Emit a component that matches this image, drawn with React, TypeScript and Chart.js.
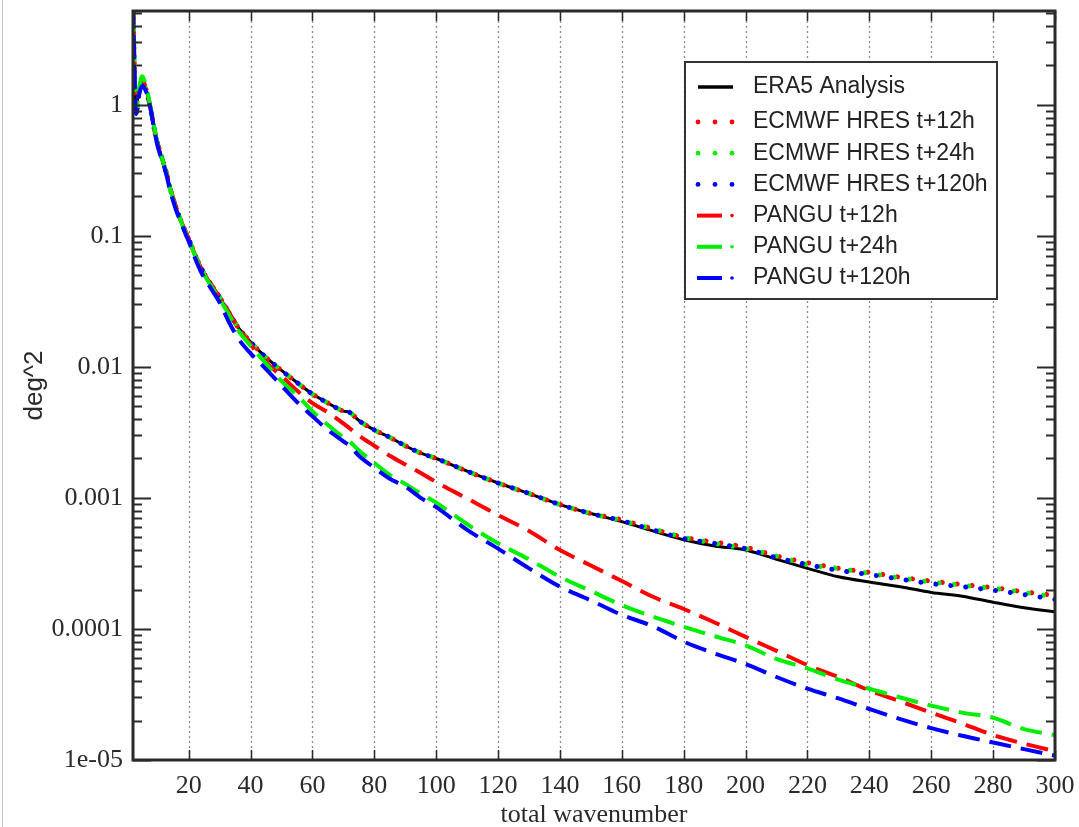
import React, { useEffect, useRef } from 'react';
import { Chart, registerables } from 'chart.js';

Chart.register(...registerables);

// total wavenumber samples
const WAVENUMBER = [2, 3, 4, 5, 6, 7, 8, 9, 10, 11, 12, 13, 14, 15, 16, 17, 18, 19, 20, 22, 24, 26, 28, 30, 33, 36, 40, 45, 50, 55, 60, 65, 70, 72, 75, 80, 85, 90, 95, 100, 110, 120, 130, 140, 150, 160, 170, 180, 190, 200, 210, 220, 230, 240, 250, 260, 270, 280, 290, 300];

const ERA5 = [6, 1.0, 1.3, 1.45, 1.35, 1.1, 0.85, 0.63, 0.5, 0.42, 0.35, 0.29, 0.23, 0.19, 0.16, 0.14, 0.122, 0.107, 0.095, 0.072, 0.057, 0.047, 0.04, 0.034, 0.026, 0.02, 0.0155, 0.0118, 0.0094, 0.0076, 0.0062, 0.0053, 0.0046, 0.0045, 0.0039, 0.0033, 0.0029, 0.0025, 0.0022, 0.002, 0.0016, 0.0013, 0.00108, 0.00089, 0.00076, 0.00066, 0.00056, 0.00048, 0.00043, 0.0004, 0.00034, 0.00029, 0.00025, 0.000228, 0.00021, 0.00019, 0.000178, 0.00016, 0.000145, 0.000135];

const HRES_12 = [6, 0.85, 1.25, 1.45, 1.35, 1.1, 0.85, 0.63, 0.5, 0.42, 0.35, 0.29, 0.23, 0.19, 0.16, 0.14, 0.122, 0.107, 0.095, 0.072, 0.057, 0.047, 0.04, 0.034, 0.026, 0.02, 0.0155, 0.0118, 0.0094, 0.0076, 0.0062, 0.0053, 0.0046, 0.0045, 0.0039, 0.0033, 0.0029, 0.0025, 0.0022, 0.002, 0.0016, 0.0013, 0.00108, 0.00089, 0.00076, 0.00068, 0.00058, 0.0005, 0.00046, 0.00042, 0.00036, 0.00032, 0.00029, 0.00027, 0.000248, 0.000232, 0.000218, 0.000207, 0.000192, 0.00018];

const HRES_24 = [6, 0.85, 1.25, 1.45, 1.35, 1.1, 0.85, 0.63, 0.5, 0.42, 0.35, 0.29, 0.23, 0.19, 0.16, 0.14, 0.122, 0.107, 0.095, 0.072, 0.057, 0.047, 0.04, 0.034, 0.026, 0.02, 0.0155, 0.0118, 0.0094, 0.0076, 0.0062, 0.0053, 0.0046, 0.0045, 0.0039, 0.0033, 0.0029, 0.0025, 0.0022, 0.002, 0.0016, 0.0013, 0.00108, 0.00089, 0.00076, 0.00067, 0.00058, 0.0005, 0.00045, 0.00041, 0.00036, 0.00031, 0.00029, 0.000265, 0.000245, 0.000228, 0.000215, 0.000204, 0.00019, 0.000176];

const HRES_120 = [6, 0.85, 1.25, 1.45, 1.35, 1.1, 0.85, 0.63, 0.5, 0.42, 0.35, 0.29, 0.23, 0.19, 0.16, 0.14, 0.122, 0.107, 0.095, 0.072, 0.057, 0.047, 0.04, 0.034, 0.026, 0.02, 0.0155, 0.0118, 0.0094, 0.0076, 0.0062, 0.0053, 0.0046, 0.0045, 0.0039, 0.0033, 0.0029, 0.0025, 0.0022, 0.002, 0.0016, 0.0013, 0.00108, 0.00089, 0.00076, 0.00067, 0.00057, 0.00049, 0.00045, 0.00041, 0.00035, 0.00031, 0.00028, 0.00026, 0.00024, 0.000222, 0.00021, 0.000198, 0.000183, 0.000168];

const PANGU_12 = [6, 0.85, 1.25, 1.5, 1.4, 1.12, 0.86, 0.64, 0.5, 0.42, 0.35, 0.29, 0.235, 0.195, 0.165, 0.14, 0.122, 0.107, 0.096, 0.072, 0.057, 0.047, 0.04, 0.034, 0.026, 0.02, 0.0148, 0.0108, 0.0085, 0.0066, 0.0053, 0.0045, 0.0037, 0.0034, 0.003, 0.0025, 0.0021, 0.0018, 0.00155, 0.00132, 0.00099, 0.00074, 0.00056, 0.0004, 0.000305, 0.000232, 0.000176, 0.000142, 0.000112, 0.000087, 0.000068, 0.000053, 0.000043, 0.000034, 0.000028, 0.000023, 0.000019, 0.0000155, 0.0000133, 0.0000117];

const PANGU_24 = [6, 0.9, 1.35, 1.65, 1.45, 1.15, 0.88, 0.65, 0.5, 0.42, 0.35, 0.29, 0.23, 0.19, 0.16, 0.14, 0.12, 0.105, 0.094, 0.071, 0.056, 0.046, 0.039, 0.033, 0.025, 0.019, 0.0145, 0.0106, 0.0078, 0.0061, 0.0046, 0.0036, 0.0029, 0.0027, 0.0023, 0.00185, 0.0015, 0.00128, 0.00108, 0.00092, 0.00063, 0.00045, 0.00034, 0.00025, 0.000195, 0.000152, 0.000124, 0.000104, 0.000088, 0.000075, 0.000059, 0.00005, 0.000041, 0.000035, 0.00003, 0.000026, 0.000023, 0.000021, 0.0000172, 0.0000155];

const PANGU_120 = [6, 0.85, 1.2, 1.4, 1.3, 1.1, 0.85, 0.62, 0.48, 0.4, 0.34, 0.28, 0.22, 0.185, 0.155, 0.135, 0.118, 0.103, 0.091, 0.068, 0.053, 0.044, 0.037, 0.031, 0.022, 0.0165, 0.0127, 0.0096, 0.0072, 0.0054, 0.0042, 0.0033, 0.0027, 0.0025, 0.0021, 0.0017, 0.0014, 0.00122, 0.001, 0.00085, 0.00057, 0.00041, 0.00029, 0.00021, 0.000165, 0.000128, 0.000105, 0.00008, 0.000065, 0.000054, 0.000043, 0.000035, 0.0000295, 0.0000245, 0.0000205, 0.0000175, 0.0000153, 0.0000136, 0.0000121, 0.0000108];

const SERIES_LABELS = ['ERA5 Analysis', 'ECMWF HRES t+12h', 'ECMWF HRES t+24h', 'ECMWF HRES t+120h', 'PANGU t+12h', 'PANGU t+24h', 'PANGU t+120h'];
const SERIES_COLORS = ['#000000', '#ff0000', '#00ee00', '#0000ff', '#ff0000', '#00ee00', '#0000ff'];
const SERIES_STYLES = ['solid', 'dot', 'dot', 'dot', 'dashdot', 'dashdot', 'dashdot'];

const X_TICKS = [20, 40, 60, 80, 100, 120, 140, 160, 180, 200, 220, 240, 260, 280, 300];
const Y_TICKS = [1e-5, 1e-4, 1e-3, 1e-2, 1e-1, 1];
const Y_TICK_LABELS = ['1e-05', '0.0001', '0.001', '0.01', '0.1', '1'];

const X_MIN = 2;
const X_MAX = 300;
const Y_MIN = 1e-5;
const Y_MAX = 5.2;

const AXIS_COLOR = '#2a2a2a';

const decoPlugin = {
  id: 'deco',
  beforeDraw(chart: any) {
    const { ctx, height } = chart;
    ctx.save();
    ctx.strokeStyle = '#c4c4c4';
    ctx.lineWidth = 1;
    ctx.beginPath();
    ctx.moveTo(2.5, 0);
    ctx.lineTo(2.5, height);
    ctx.stroke();
    ctx.restore();
  },
  beforeDatasetsDraw(chart: any) {
    const { ctx, chartArea: a, scales } = chart;
    const xs = scales.x;
    ctx.save();
    ctx.strokeStyle = '#8c8c8c';
    ctx.lineWidth = 1.3;
    ctx.setLineDash([2, 3]);
    X_TICKS.forEach((v) => {
      const px = Math.round(xs.getPixelForValue(v)) + 0.5;
      ctx.beginPath();
      ctx.moveTo(px, a.top);
      ctx.lineTo(px, a.bottom);
      ctx.stroke();
    });
    ctx.restore();
  },
  afterDatasetsDraw(chart: any) {
    const { ctx, chartArea: a, scales } = chart;
    const xs = scales.x;
    const ys = scales.y;
    ctx.save();
    // inner ticks on y axes
    ctx.strokeStyle = AXIS_COLOR;
    ctx.lineWidth = 2;
    ctx.setLineDash([]);
    for (let e = -5; e <= 0; e++) {
      for (let m = 1; m <= 9; m++) {
        const v = m * Math.pow(10, e);
        if (v > Y_MAX) break;
        const py = Math.round(ys.getPixelForValue(v)) + 0.5;
        const len = m === 1 ? 18 : 9;
        ctx.beginPath();
        ctx.moveTo(a.left, py);
        ctx.lineTo(a.left + len, py);
        ctx.moveTo(a.right, py);
        ctx.lineTo(a.right - len, py);
        ctx.stroke();
      }
    }
    // inner ticks on x axes
    ctx.lineWidth = 1.5;
    X_TICKS.forEach((v) => {
      const px = Math.round(xs.getPixelForValue(v)) + 0.5;
      ctx.beginPath();
      ctx.moveTo(px, a.top);
      ctx.lineTo(px, a.top + 10);
      ctx.moveTo(px, a.bottom);
      ctx.lineTo(px, a.bottom - 10);
      ctx.stroke();
    });
    // frame
    ctx.lineWidth = 3;
    ctx.strokeStyle = AXIS_COLOR;
    ctx.strokeRect(a.left, a.top, a.right - a.left, a.bottom - a.top);

    // legend box
    const bx = 685, by = 62, bw = 312, bh = 237;
    ctx.fillStyle = '#ffffff';
    ctx.fillRect(bx, by, bw, bh);
    ctx.lineWidth = 2;
    ctx.strokeStyle = '#333333';
    ctx.strokeRect(bx, by, bw, bh);
    ctx.font = '23px "Liberation Sans", Arial, sans-serif';
    ctx.textBaseline = 'middle';
    ctx.textAlign = 'left';
    SERIES_LABELS.forEach((label, i) => {
      const rowY = i === 0 ? 87 : 122 + (i - 1) * 31.2;
      const color = SERIES_COLORS[i];
      const style = SERIES_STYLES[i];
      ctx.strokeStyle = color;
      ctx.fillStyle = color;
      if (style === 'solid') {
        ctx.lineWidth = 3.5;
        ctx.beginPath();
        ctx.moveTo(698, rowY);
        ctx.lineTo(733, rowY);
        ctx.stroke();
      } else if (style === 'dot') {
        [698, 715, 732].forEach((dx) => {
          ctx.beginPath();
          ctx.arc(dx, rowY, 2.4, 0, Math.PI * 2);
          ctx.fill();
        });
      } else {
        ctx.lineWidth = 4;
        ctx.beginPath();
        ctx.moveTo(697, rowY);
        ctx.lineTo(722, rowY);
        ctx.stroke();
        ctx.beginPath();
        ctx.arc(732, rowY, 1.8, 0, Math.PI * 2);
        ctx.fill();
      }
      ctx.fillStyle = '#222222';
      ctx.fillText(label, 753, rowY);
    });
    ctx.restore();
  },
};

export default function App() {
  const canvasRef = useRef<HTMLCanvasElement | null>(null);

  useEffect(() => {
    if (!canvasRef.current) return;
    const series = [ERA5, HRES_12, HRES_24, HRES_120, PANGU_12, PANGU_24, PANGU_120];
    const datasets = series.map((vals, i) => {
      const style = SERIES_STYLES[i];
      const base: any = {
        label: SERIES_LABELS[i],
        data: WAVENUMBER.map((k, j) => ({ x: k, y: vals[j] })),
        borderColor: SERIES_COLORS[i],
        backgroundColor: SERIES_COLORS[i],
        pointRadius: 0,
        fill: false,
        cubicInterpolationMode: 'monotone',
        order: 7 - i,
      };
      if (style === 'solid') {
        base.borderWidth = 3;
      } else if (style === 'dot') {
        base.borderWidth = 5;
        base.borderDash = [0.01, 15];
        base.borderDashOffset = (i - 1) * 3;
        base.borderCapStyle = 'round';
      } else {
        base.borderWidth = 4;
        base.borderDash = [22, 10];
        base.borderCapStyle = 'butt';
      }
      return base;
    });

    const chart = new Chart(canvasRef.current, {
      type: 'line',
      data: { datasets },
      options: {
        animation: false,
        responsive: false,
        layout: { padding: { top: 11, right: 24, left: 0, bottom: 0 } },
        plugins: { legend: { display: false }, tooltip: { enabled: false } },
        scales: {
          x: {
            type: 'linear',
            min: X_MIN,
            max: X_MAX,
            grid: { display: false },
            border: { display: false },
            afterBuildTicks: (scale: any) => {
              scale.ticks = X_TICKS.map((v) => ({ value: v }));
            },
            afterFit: (scale: any) => {
              scale.height = 67;
              scale.paddingLeft = 0;
              scale.paddingRight = 0;
            },
            ticks: {
              autoSkip: false,
              maxRotation: 0,
              padding: 3,
              color: '#2a2a2a',
              font: { family: '"Liberation Serif", "Times New Roman", serif', size: 26 },
              callback: (v: any) => String(v),
            },
            title: {
              display: true,
              text: 'total wavenumber',
              color: '#2a2a2a',
              font: { family: '"Liberation Serif", "Times New Roman", serif', size: 26, lineHeight: 0.92 },
              padding: { top: 0, bottom: 0 },
            },
          },
          y: {
            type: 'logarithmic',
            min: Y_MIN,
            max: Y_MAX,
            grid: { display: false },
            border: { display: false },
            afterBuildTicks: (scale: any) => {
              scale.ticks = Y_TICKS.map((v) => ({ value: v }));
            },
            afterFit: (scale: any) => {
              scale.width = 133;
              scale.paddingTop = 0;
              scale.paddingBottom = 0;
            },
            ticks: {
              autoSkip: false,
              padding: 2,
              color: '#2a2a2a',
              font: { family: '"Liberation Serif", "Times New Roman", serif', size: 26 },
              callback: (_v: any, idx: number) => Y_TICK_LABELS[idx],
            },
            title: {
              display: true,
              text: 'deg^2',
              color: '#2a2a2a',
              font: { family: '"Liberation Sans", Arial, sans-serif', size: 26, lineHeight: 1 },
              padding: { top: 22, bottom: 0 },
            },
          },
        },
      },
      plugins: [decoPlugin],
    });
    return () => chart.destroy();
  }, []);

  return (
    <div style={{ position: 'absolute', left: 0, top: 0, width: 1079, height: 827, background: '#ffffff' }}>
      <canvas ref={canvasRef} width={1079} height={827} style={{ display: 'block' }} />
    </div>
  );
}
